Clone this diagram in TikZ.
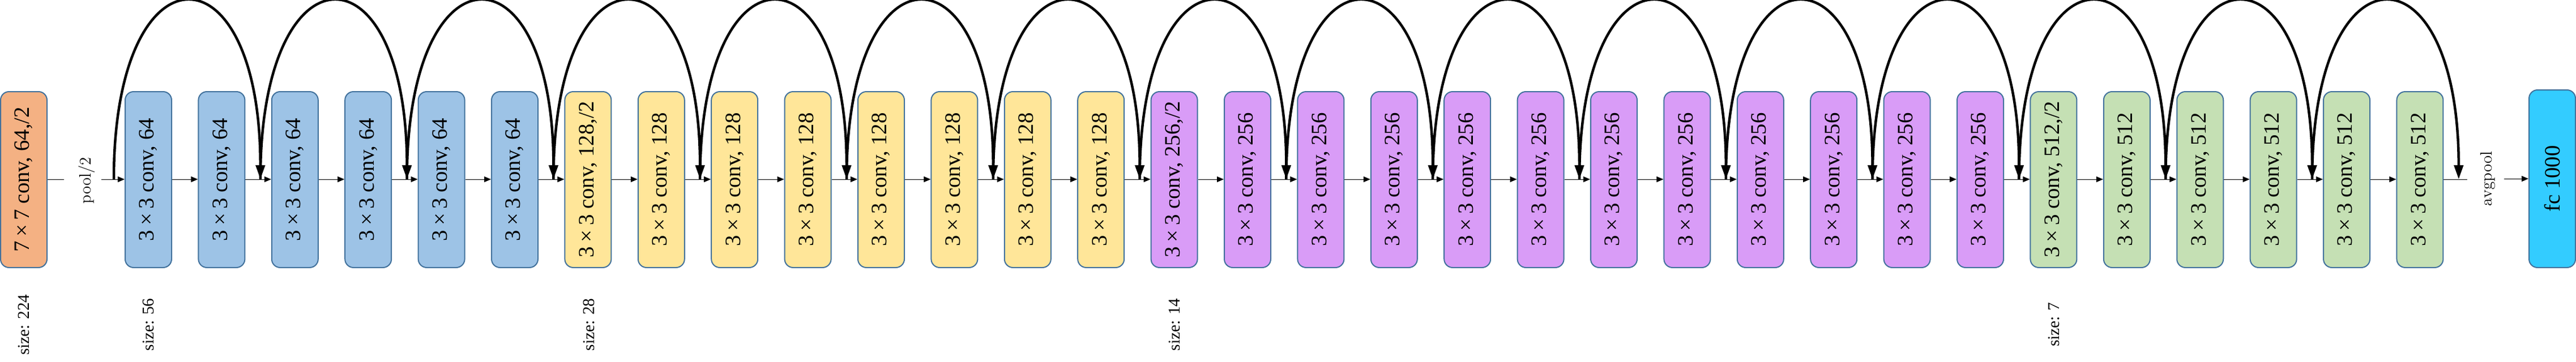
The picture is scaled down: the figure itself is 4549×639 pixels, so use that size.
\documentclass[tikz,border=0pt]{standalone}
\usepackage{fontspec}
\newfontfamily\boxfont{Liberation Serif}
\usetikzlibrary{arrows.meta}
\definecolor{corange}{HTML}{F4B183}
\definecolor{cblue}{HTML}{9DC3E6}
\definecolor{cyellow}{HTML}{FFE699}
\definecolor{cpurple}{HTML}{D99CF7}
\definecolor{cgreen}{HTML}{C5E0B4}
\definecolor{cfc}{HTML}{33CCFF}
\definecolor{cborder}{HTML}{41719C}
\newcommand{\tms}{\hspace{0.2em}×\hspace{0.2em}}
\tikzset{
 convbox/.style={draw=cborder, line width=1pt, rounded corners=7.5pt, minimum width=41pt, minimum height=155.5pt, inner sep=0pt, font=\boxfont\fontsize{19.4}{21}\selectfont},
 lbl/.style={inner sep=0pt, font=\fontsize{14.5}{16}\selectfont},
 sizelbl/.style={inner sep=0pt, font=\boxfont\fontsize{14.6}{16}\selectfont},
 thinarrow/.style={line width=0.5pt, -{Triangle[length=6pt,width=5pt]}},
 thinline/.style={line width=0.5pt},
 skiparc/.style={line width=2.25pt, -{Triangle[length=12.5pt,width=8pt]}}
}
\begin{document}
\begin{tikzpicture}[x=0.5pt,y=-0.5pt]
\useasboundingbox (0,0) rectangle (4549,639);
% input conv
\node[convbox, fill=corange] (in) at (42,317.5) {\rotatebox{90}{7\tms7 conv, 64,/2}};
% residual convs
\foreach \i in {0,...,31}{
  \ifnum\i<6 \def\bxcol{cblue}\def\bxnum{64}\else
  \ifnum\i<14 \def\bxcol{cyellow}\def\bxnum{128}\else
  \ifnum\i<26 \def\bxcol{cpurple}\def\bxnum{256}\else
  \def\bxcol{cgreen}\def\bxnum{512}\fi\fi\fi
  \def\bxhalf{}
  \ifnum\i=6 \def\bxhalf{,/2}\fi
  \ifnum\i=14 \def\bxhalf{,/2}\fi
  \ifnum\i=26 \def\bxhalf{,/2}\fi
  \node[convbox, fill=\bxcol] (b\i) at ({262+129.4*\i},317.5) {\rotatebox{90}{3\tms3 conv, \bxnum\bxhalf}};
}
% fc
\node[convbox, fill=cfc, minimum height=157pt] (fc) at (4507,316) {\rotatebox{90}{fc 1000}};
% labels
\node[lbl] (pool) at (153,319) {\rotatebox{90}{pool/2}};
\node[lbl] (avg) at (4393,316) {\rotatebox{90}{avgpool}};
\node[sizelbl] (sz224) at (42,574) {\rotatebox{90}{size: 224}};
\node[sizelbl] (sz56) at (262,574) {\rotatebox{90}{size: 56}};
\node[sizelbl] (sz28) at (1040,574) {\rotatebox{90}{size: 28}};
\node[sizelbl] (sz14) at (2074,574) {\rotatebox{90}{size: 14}};
\node[sizelbl] (sz7) at (3627,574) {\rotatebox{90}{size: 7}};
% free ends of connectors
\coordinate (p1) at (113,317);
\coordinate (p2) at (179,317);
\coordinate (a1) at (4357,317);
\coordinate (a2) at (4422,316);
\draw[thinline] (in.east |- p1) -- (p1);
\draw[thinarrow] (p2) -- (b0.west |- p2);
\foreach \i in {0,...,30}{
  \pgfmathtruncatemacro\j{\i+1}
  \draw[thinarrow] (b\i.east |- p1) -- (b\j.west |- p1);
}
\draw[thinline] (b31.east |- a1) -- (a1);
\draw[thinarrow] (a2) -- (fc.west |- a2);
% skip connections
\foreach \k in {0,...,16}{
  \coordinate (s\k) at ({201+258.8*\k},317);
}
\foreach \k in {0,...,15}{
  \pgfmathtruncatemacro\j{\k+1}
  \draw[skiparc] (s\k) .. controls +(0,-420) and +(0,-420) .. (s\j);
}
\end{tikzpicture}
\end{document}
